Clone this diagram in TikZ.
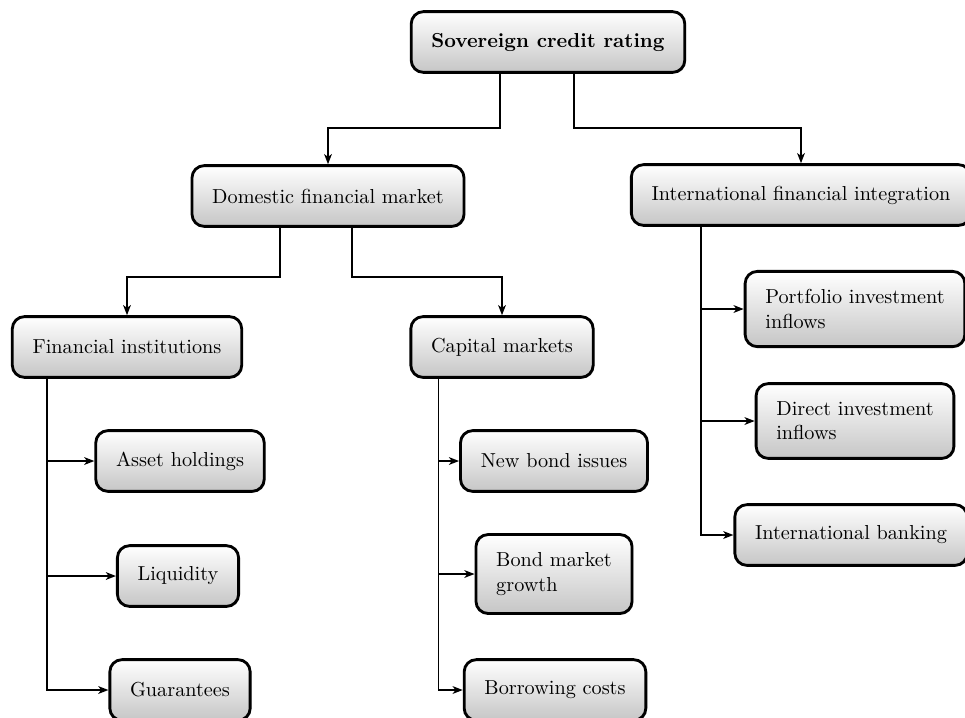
\documentclass[tikz,border=0pt]{standalone}
\usepackage{amsmath}
\usepackage{xcolor}
\usetikzlibrary{arrows.meta,shadows,positioning}

\tikzset{
    box/.style={draw=black, line width=1.4pt, rounded corners=6pt, top color=white, bottom color=gray!45,
        inner xsep=10pt, inner ysep=9pt, minimum height=30pt, align=left,
        drop shadow={shadow xshift=0.6pt, shadow yshift=-0.6pt, opacity=0.25, fill=black}},
    arr/.style={line width=0.9pt, -{Stealth[length=5pt,width=3.8pt,inset=1.4pt]}}
}

\begin{document}
\begin{tikzpicture}[x=0.494pt,y=-0.494pt]
        \useasboundingbox (0,0) rectangle (965,717);

        \node[box] (top) at (548,42) {\textbf{Sovereign credit rating}};

        \node[box] (dom) at (328,196) {Domestic financial market};
        \node[box] (intl) at (801,195) {International financial integration};

        \node[box] (fin) at (127,347) {Financial institutions};
        \node[box] (cap) at (502,347) {Capital markets};

        \node[box] (asset) at (180,461) {Asset holdings};
        \node[box] (liq) at (178,576) {Liquidity};
        \node[box] (guar) at (180,690) {Guarantees};

        \node[box] (newb) at (554,461) {New bond issues};
        \node[box] (bmg) at (554,574) {Bond market\\growth};
        \node[box] (borr) at (555,690) {Borrowing costs};

        \node[box] (port) at (855,309) {Portfolio investment\\inflows};
        \node[box] (direct) at (855,421) {Direct investment\\inflows};
        \node[box] (ibank) at (851,535) {International banking};

        \draw[arr] (top.south) ++(-48,0) -- ++(0,54) -| (dom.north);
        \draw[arr] (top.south) ++(26,0) -- ++(0,54) -| (intl.north);

        \draw[arr] (dom.south) ++(-48,0) -- ++(0,49) -| (fin.north);
        \draw[arr] (dom.south) ++(24,0) -- ++(0,49) -| (cap.north);

        \draw[arr] (fin.south west) ++(36,0) |- (asset.west);
        \draw[arr] (fin.south west) ++(36,0) |- (liq.west);
        \draw[arr] (fin.south west) ++(36,0) |- (guar.west);

        \draw[arr] (cap.south west) ++(29,0) |- (newb.west);
        \draw[arr] (cap.south west) ++(29,0) |- (bmg.west);
        \draw[arr] (cap.south west) ++(29,0) |- (borr.west);

        \draw[arr] (intl.south west) ++(71,0) |- (port.west);
        \draw[arr] (intl.south west) ++(71,0) |- (direct.west);
        \draw[arr] (intl.south west) ++(71,0) |- (ibank.west);
    \end{tikzpicture}
\end{document}
